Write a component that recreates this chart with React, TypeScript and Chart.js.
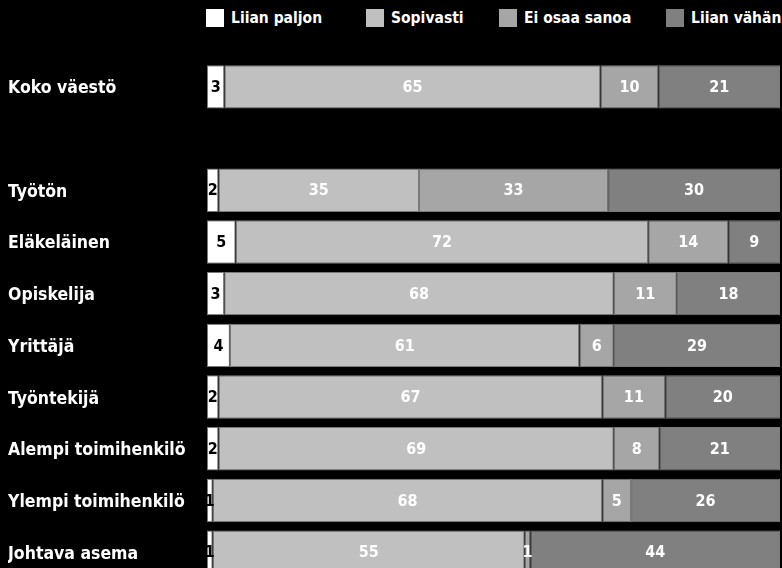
import React, { useEffect, useRef } from "react";
import { Chart, registerables } from "chart.js";

Chart.register(...registerables);

const categories = [
  "Koko väestö",
  "",
  "Työtön",
  "Eläkeläinen",
  "Opiskelija",
  "Yrittäjä",
  "Työntekijä",
  "Alempi toimihenkilö",
  "Ylempi toimihenkilö",
  "Johtava asema",
];
const seriesNames = ["Liian paljon", "Sopivasti", "Ei osaa sanoa", "Liian vähän"];
const liianPaljon = [3, null, 2, 5, 3, 4, 2, 2, 1, 1];
const sopivasti = [65, null, 35, 72, 68, 61, 67, 69, 68, 55];
const eiOsaaSanoa = [10, null, 33, 14, 11, 6, 11, 8, 5, 1];
const liianVahan = [21, null, 30, 9, 18, 29, 20, 21, 26, 44];

const colors = ["#ffffff", "#c0c0c0", "#a6a6a6", "#808080"];
const labelColors = ["#000000", "#ffffff", "#ffffff", "#ffffff"];
const FONT = '"DejaVu Sans Condensed", "DejaVu Sans", sans-serif';
const legendX = [206, 366, 499, 666];

const raw = [liianPaljon, sopivasti, eiOsaaSanoa, liianVahan];
const totals = categories.map((_, i) =>
  raw.reduce((s, arr) => s + (arr[i] ?? 0), 0)
);

const valueLabels = {
  id: "valueLabels",
  afterDatasetsDraw(chart: any) {
    const ctx = chart.ctx;
    ctx.save();
    ctx.font = `bold 16px ${FONT}`;
    ctx.textAlign = "center";
    ctx.textBaseline = "middle";
    chart.data.datasets.forEach((ds: any, di: number) => {
      const meta = chart.getDatasetMeta(di);
      meta.data.forEach((el: any, i: number) => {
        const v = raw[di][i];
        if (v === null || v === undefined) return;
        const p = el.getProps(["x", "y", "base"], true);
        ctx.fillStyle = labelColors[di];
        ctx.fillText(String(v), (p.x + p.base) / 2, p.y + 1);
      });
    });
    ctx.restore();
  },
};

export default function App() {
  const ref = useRef<HTMLCanvasElement | null>(null);

  useEffect(() => {
    document.body.style.margin = "0";
    document.body.style.background = "#000";
    const canvas = ref.current;
    if (!canvas) return;
    const chart = new Chart(canvas, {
      type: "bar",
      data: {
        labels: categories,
        datasets: raw.map((arr, di) => ({
          label: seriesNames[di],
          data: arr.map((v, i) => (v === null ? null : (v / totals[i]) * 100)),
          backgroundColor: colors[di],
          borderColor: "#7a7a7a",
          borderWidth: 1,
          borderSkipped: false,
          categoryPercentage: 1,
          barPercentage: 0.84,
        })),
      },
      options: {
        indexAxis: "y",
        animation: false,
        responsive: true,
        maintainAspectRatio: false,
        layout: { padding: { left: 8, top: 61, bottom: 22, right: 2 } },
        plugins: {
          legend: { display: false },
          tooltip: { enabled: false },
        },
        scales: {
          x: { stacked: true, display: false, min: 0, max: 100 },
          y: {
            stacked: true,
            grid: { display: false },
            border: { display: false },
            afterFit: (scale: any) => {
              scale.width = 199;
            },
            ticks: {
              crossAlign: "far",
              labelOffset: 2,
              color: "#ffffff",
              font: { family: FONT, size: 17.5, weight: "bold" },
            },
          },
        },
      },
      plugins: [valueLabels],
    });
    return () => chart.destroy();
  }, []);

  return (
    <div
      style={{
        position: "fixed",
        left: 0,
        top: 0,
        width: 782,
        height: 568,
        overflow: "hidden",
        background: "#000",
      }}
    >
      {seriesNames.map((name, i) => (
        <div
          key={name}
          style={{
            position: "absolute",
            left: legendX[i],
            top: 9,
            height: 18,
            display: "flex",
            alignItems: "center",
            whiteSpace: "nowrap",
          }}
        >
          <span
            style={{
              display: "inline-block",
              width: 18,
              height: 18,
              background: colors[i],
              marginRight: 7,
            }}
          />
          <span
            style={{
              color: "#fff",
              fontFamily: FONT,
              fontWeight: "bold",
              fontSize: 15.5,
              lineHeight: "18px",
            }}
          >
            {name}
          </span>
        </div>
      ))}
      <div style={{ position: "absolute", left: 0, top: 0, width: 782, height: 600 }}>
        <canvas ref={ref} />
      </div>
    </div>
  );
}
